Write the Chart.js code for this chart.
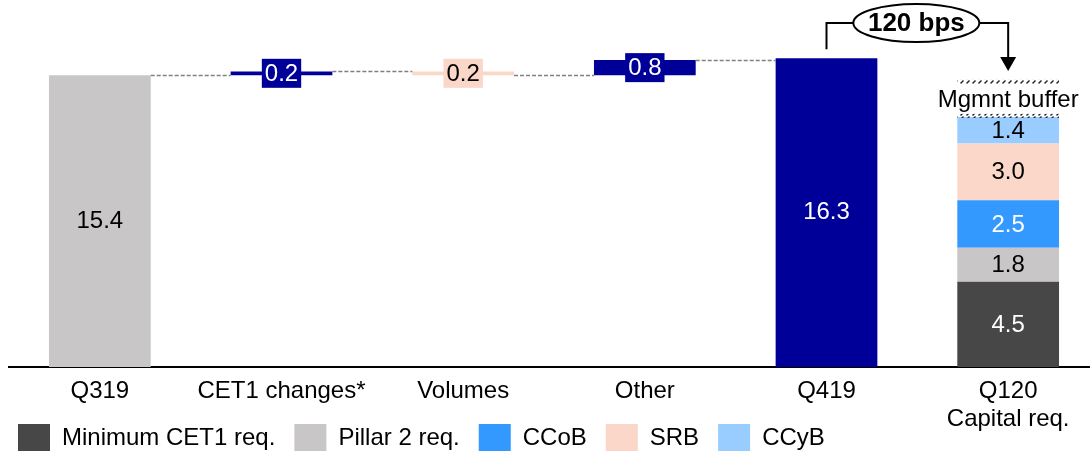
<!DOCTYPE html>
<html>
<head>
<meta charset="utf-8">
<script src="https://cdn.jsdelivr.net/npm/chart.js@4.4.0/dist/chart.umd.min.js"></script>
<style>
  html, body { margin: 0; padding: 0; background: #fff; overflow: hidden; }
  #wrap { width: 1100px; height: 454px; position: relative; }
</style>
</head>
<body>
<div id="wrap"><canvas id="myChart"></canvas></div>
<script>
// data
const categories = [["Q319"], ["CET1 changes*"], ["Volumes"], ["Other"], ["Q419"], ["Q120", "Capital req."]];
const startValue = 15.4;
const changes = [0.2, -0.2, 0.8];
const endValue = 16.3;
const reqLabels = ["Minimum CET1 req.", "Pillar 2 req.", "CCoB", "SRB", "CCyB"];
const reqValues = [4.5, 1.8, 2.5, 3.0, 1.4];
const mgmtBuffer = 1.9;
const gapLabel = "120 bps";

const NAVY = "#000099";
const PEACH = "#FAD7C8";
const reqColors = ["#474747", "#C8C6C6", "#3399FF", "#FAD7C8", "#99CCFF"];
const reqTextColors = ["#fff", "#000", "#fff", "#000", "#000"];
const FONT = "'Liberation Sans', Arial, sans-serif";

// waterfall ranges built from the values above
let run = startValue;
const wfData = [[0, startValue]];
const wfColors = ["#C8C6C6"];
const wfLevels = [startValue];
changes.forEach(c => {
  wfData.push([run, run + c]);
  wfColors.push(c >= 0 ? NAVY : PEACH);
  run += c;
  wfLevels.push(run);
});
wfData.push([0, endValue]);
wfColors.push(NAVY);
wfData.push(null);
const wfText = [startValue].concat(changes.map(Math.abs)).concat([endValue]);

const last = categories.length - 1;
let cum = 0;
const reqSets = reqValues.map((v, i) => {
  const data = categories.map(() => null);
  data[last] = [cum, cum + v];
  cum += v;
  return {
    label: reqLabels[i],
    data: data,
    backgroundColor: reqColors[i],
    grouped: false
  };
});
const bufData = categories.map(() => null);
bufData[last] = [cum, cum + mgmtBuffer];

function hatchPattern(ctx) {
  const c = document.createElement("canvas");
  c.width = 6; c.height = 4;
  const g = c.getContext("2d");
  g.strokeStyle = "#222";
  g.lineWidth = 1.4;
  g.beginPath();
  g.moveTo(0.5, 3.5); g.lineTo(3.5, 0.5);
  g.stroke();
  return ctx.createPattern(c, "repeat");
}

const decorPlugin = {
  id: "decor",
  afterDatasetsDraw(chart) {
    const ctx = chart.ctx;
    const y = chart.scales.y;
    const wf = chart.getDatasetMeta(0).data;
    ctx.save();

    // dashed connectors
    ctx.strokeStyle = "#808080";
    ctx.lineWidth = 1.5;
    ctx.setLineDash([4, 2]);
    for (let i = 0; i < 4; i++) {
      const a = wf[i], b = wf[i + 1];
      const yy = Math.round(y.getPixelForValue(wfLevels[i])) + 0.5;
      ctx.beginPath();
      ctx.moveTo(a.x + a.width / 2, yy);
      ctx.lineTo(b.x - b.width / 2, yy);
      ctx.stroke();
    }
    ctx.setLineDash([]);

    // waterfall labels
    ctx.font = "24px " + FONT;
    ctx.textAlign = "center";
    ctx.textBaseline = "middle";
    wf.forEach((bar, i) => {
      if (!wfData[i]) return;
      const txt = wfText[i].toFixed(1);
      const cy = (bar.y + bar.base) / 2;
      if (i > 0 && i < 4) {
        const w = ctx.measureText(txt).width + 6;
        ctx.fillStyle = wfColors[i];
        ctx.fillRect(bar.x - w / 2, cy - 14.5, w, 29);
        ctx.fillStyle = wfColors[i] === NAVY ? "#fff" : "#000";
        ctx.fillText(txt, bar.x, cy + 1);
      } else {
        ctx.fillStyle = wfColors[i] === NAVY ? "#fff" : "#000";
        ctx.fillText(txt, bar.x, cy);
      }
    });

    // requirement labels
    reqValues.forEach((v, i) => {
      const bar = chart.getDatasetMeta(i + 1).data[last];
      ctx.fillStyle = reqTextColors[i];
      ctx.fillText(v.toFixed(1), bar.x, (bar.y + bar.base) / 2 + 1);
    });

    // management buffer
    const buf = chart.getDatasetMeta(reqValues.length + 1).data[last];
    ctx.fillStyle = hatchPattern(ctx);
    ctx.fillRect(buf.x - buf.width / 2, buf.y - 1, buf.width, 4);
    ctx.fillRect(buf.x - buf.width / 2, buf.base - 3, buf.width, 4);
    ctx.fillStyle = "#000";
    ctx.fillText("Mgmnt buffer", buf.x, (buf.y + buf.base) / 2 + 1);

    // bracket with ellipse
    const q4 = wf[4];
    const xl = q4.x, xr = buf.x;
    const ty = 23;
    const ex = (xl + xr) / 2 - 1, rx = 63, ry = 19;
    ctx.strokeStyle = "#000";
    ctx.lineWidth = 2;
    ctx.beginPath();
    ctx.moveTo(xl, q4.y - 9);
    ctx.lineTo(xl, ty);
    ctx.lineTo(ex - rx, ty);
    ctx.moveTo(ex + rx, ty);
    ctx.lineTo(xr, ty);
    ctx.lineTo(xr, buf.y - 22);
    ctx.stroke();
    ctx.beginPath();
    ctx.moveTo(xr - 8, buf.y - 24);
    ctx.lineTo(xr + 8, buf.y - 24);
    ctx.lineTo(xr, buf.y - 10);
    ctx.closePath();
    ctx.fillStyle = "#000";
    ctx.fill();
    ctx.beginPath();
    ctx.ellipse(ex, ty, rx, ry, 0, 0, Math.PI * 2);
    ctx.fillStyle = "#fff";
    ctx.fill();
    ctx.stroke();
    ctx.fillStyle = "#000";
    ctx.font = "bold 26px " + FONT;
    ctx.fillText(gapLabel, ex, ty + 1);

    // legend
    ctx.font = "24px " + FONT;
    ctx.textAlign = "left";
    let lx = 18;
    const ly = 424;
    reqLabels.forEach((lab, i) => {
      ctx.fillStyle = reqColors[i];
      ctx.fillRect(lx, ly, 32, 27);
      ctx.fillStyle = "#000";
      ctx.fillText(lab, lx + 44, ly + 14);
      lx += 44 + ctx.measureText(lab).width + 19;
    });
    ctx.restore();
  }
};

const ctx = document.getElementById("myChart").getContext("2d");
const myChart = new Chart(ctx, {
  type: "bar",
  plugins: [decorPlugin],
  data: {
    labels: categories,
    datasets: [
      {
        label: "Waterfall",
        data: wfData,
        backgroundColor: wfColors,
        grouped: false
      },
      ...reqSets,
      {
        label: "Mgmnt buffer",
        data: bufData,
        backgroundColor: "rgba(0,0,0,0)",
        grouped: false
      }
    ]
  },
  options: {
    responsive: true,
    maintainAspectRatio: false,
    animation: false,
    categoryPercentage: 1,
    barPercentage: 0.56,
    layout: { padding: { top: 7, left: 9, right: 1, bottom: 11 } },
    plugins: {
      legend: { display: false },
      tooltip: { enabled: false }
    },
    scales: {
      x: {
        grid: { display: false, drawTicks: false },
        border: { display: true, color: "#000", width: 2 },
        ticks: {
          color: "#000",
          font: { family: FONT, size: 24, lineHeight: 1.1667 },
          autoSkip: false,
          maxRotation: 0,
          padding: 10
        }
      },
      y: {
        display: false,
        min: 0,
        max: 19
      }
    }
  }
});
</script>
</body>
</html>
